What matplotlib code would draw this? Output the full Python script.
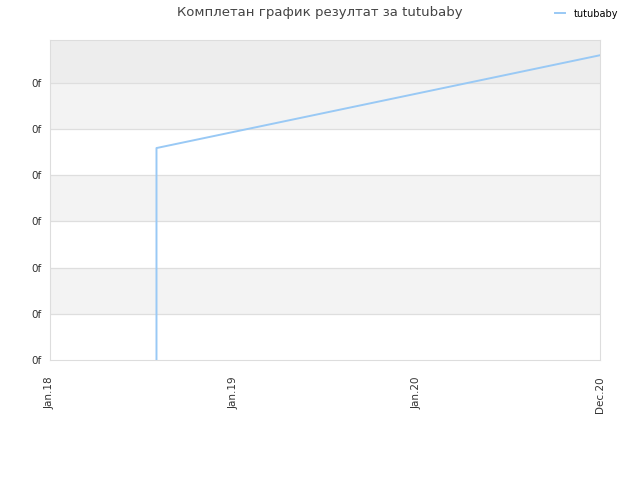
import numpy as np
import matplotlib
matplotlib.use("Agg")
import matplotlib.pyplot as plt
import matplotlib.dates as mdates
from datetime import datetime

# data
dates = [datetime(2018, 8, 1), datetime(2018, 8, 1), datetime(2020, 12, 31)]
values = [0.0, 4.59, 6.6]
yticks = [0, 1, 2, 3, 4, 5, 6]
ytick_labels = ["0f"] * 7
xtick_dates = [datetime(2018, 1, 1), datetime(2019, 1, 1), datetime(2020, 1, 1), datetime(2020, 12, 31)]
xtick_labels = ["Jan.18", "Jan.19", "Jan.20", "Dec.20"]

fig = plt.figure(figsize=(6.4, 4.8), dpi=100)
ax = fig.add_axes([50 / 640, 120 / 480, 550 / 640, 320 / 480])

ymax = 6.93
# alternating bands
for i, lo in enumerate(yticks):
    hi = min(lo + 1, ymax)
    if i % 2 == 1:
        ax.axhspan(lo, hi, color="#f3f3f3", zorder=0, lw=0)
ax.axhspan(6, ymax, color="#ededed", zorder=0, lw=0)
for y in yticks[1:]:
    ax.axhline(y, color="#dedede", lw=0.9, zorder=1)

ax.plot(dates, values, color="#99c9f5", lw=1.4, label="tutubaby", zorder=3)

ax.set_xlim(datetime(2018, 1, 1), datetime(2020, 12, 31))
ax.set_ylim(0, ymax)
ax.set_yticks(yticks)
ax.set_yticklabels(ytick_labels)
ax.set_xticks([mdates.date2num(d) for d in xtick_dates])
ax.set_xticklabels(xtick_labels, rotation=90)
ax.tick_params(length=0, labelsize=7.5, colors="#333333")
ax.tick_params(axis="x", pad=12)
ax.tick_params(axis="y", pad=6)
for s in ax.spines.values():
    s.set_color("#dddddd")

fig.text(0.5, 0.973, "Комплетан график резултат за tutubaby", ha="center", va="center",
         fontsize=9.5, color="#444444")
leg = fig.legend(loc="upper right", bbox_to_anchor=(0.98, 1.0), frameon=False,
                 fontsize=7, handlelength=1.0, handletextpad=0.9)

fig.savefig("out.png", dpi=100)
